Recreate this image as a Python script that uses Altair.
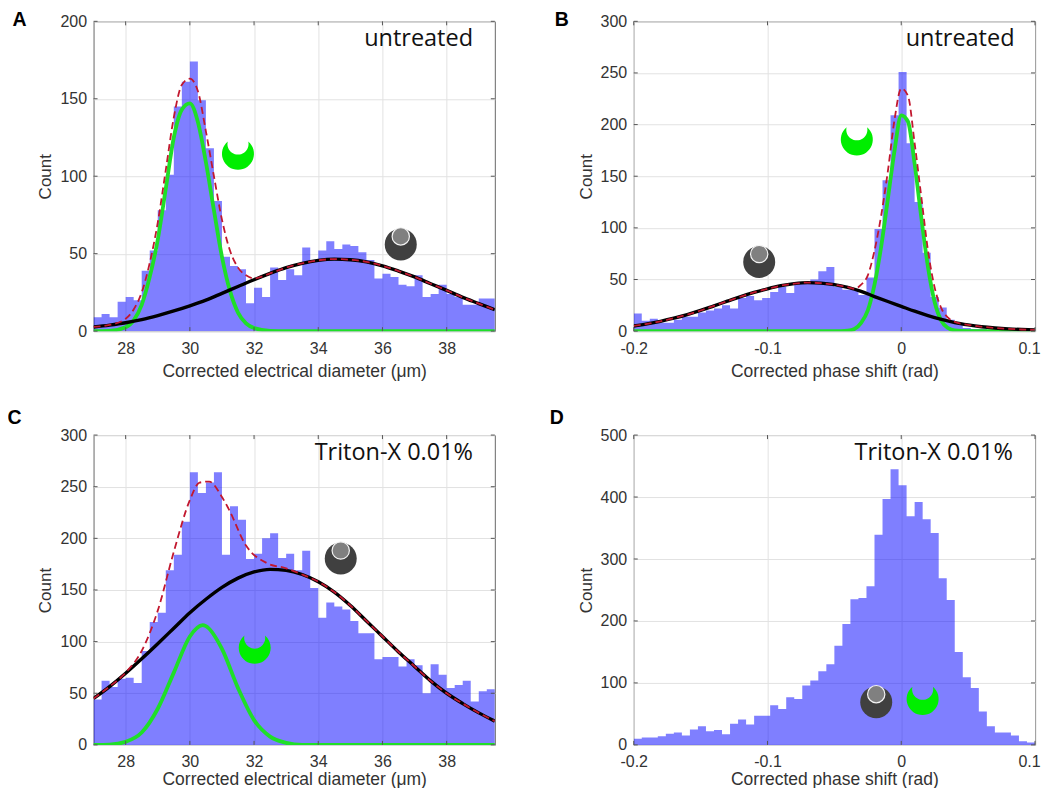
import altair as alt
import pandas as pd

# ---- histogram counts (50 bins each)
diam_edges_start, diam_edges_stop = 27.0, 39.5
phase_edges_start, phase_edges_stop = -0.2, 0.1

a_counts = [9, 11, 9, 19, 22, 20, 39, 52, 78, 101, 145, 161, 174, 149, 118, 84, 48, 42, 40, 18,
            28, 22, 41, 33, 40, 36, 54, 45, 52, 58, 53, 56, 55, 51, 46, 34, 37, 35, 30, 29,
            36, 22, 24, 30, 24, 22, 17, 17, 21, 21]
b_counts = [17, 10, 12, 8, 8, 11, 14, 14, 18, 20, 22, 25, 22, 32, 34, 30, 32, 38, 43, 37,
            46, 47, 50, 58, 62, 43, 40, 40, 35, 52, 99, 146, 209, 251, 182, 125, 76, 33, 23, 11,
            7, 3, 2, 2, 1, 1, 1, 0, 0, 0]
c_counts = [44, 62, 56, 64, 65, 60, 91, 119, 128, 169, 184, 216, 264, 244, 254, 264, 184, 231, 218, 180,
            185, 200, 205, 181, 185, 169, 188, 152, 123, 138, 134, 131, 120, 108, 108, 83, 85, 85, 76, 83,
            77, 50, 78, 68, 55, 58, 62, 42, 52, 54]
d_counts = [10, 12, 12, 14, 18, 20, 15, 25, 30, 22, 24, 17, 34, 41, 33, 47, 47, 64, 58, 77,
            74, 96, 104, 119, 130, 160, 195, 235, 237, 256, 339, 397, 445, 419, 369, 392, 364, 342, 269, 234,
            150, 109, 92, 54, 30, 20, 20, 15, 6, 4]

# ---- fitted curves
a_black_x = [27, 27.5, 28, 28.5, 29, 29.5, 30, 30.5, 31, 31.5, 32, 32.5, 33, 33.5, 34, 34.5, 35, 35.5, 36, 36.5, 37, 37.5, 38, 38.5, 39, 39.5]
a_black_y = [2.7, 3.9, 5.4, 7.4, 10, 13, 16.3, 20, 24.4, 28.8, 33.2, 37.3, 41, 43.8, 45.7, 46.5, 46.1, 44.7, 42.2, 38.8, 35, 30.6, 26.3, 21.8, 17.8, 13.8]
a_green_x = [27, 27.5, 28, 28.25, 28.5, 28.75, 29, 29.25, 29.5, 29.75, 30, 30.25, 30.5, 30.75, 31, 31.25, 31.5, 31.75, 32, 32.5, 33, 39.5]
a_green_y = [0, 0.2, 2.5, 7, 17, 35, 59, 92, 125, 143, 147, 135, 109, 78, 48, 26, 12, 5, 2, 0.2, 0, 0]
a_red_x = [27, 27.5, 28, 28.25, 28.5, 28.75, 29, 29.25, 29.5, 29.75, 30, 30.25, 30.5, 30.75, 31, 31.25, 31.5, 31.75, 32, 32.5, 33, 33.5, 34, 34.5, 35, 35.5, 36, 36.5, 37, 37.5, 38, 38.5, 39, 39.5]
a_red_y = [2.7, 4, 8, 14, 25, 44, 70, 104, 138, 159, 163, 155, 129, 100, 72, 52, 41, 36, 34, 37.3, 41, 43.8, 45.7, 46.5, 46.1, 44.7, 42.2, 38.8, 35, 30.6, 26.3, 21.8, 17.8, 13.8]

b_black_x = [-0.2, -0.19, -0.18, -0.17, -0.16, -0.15, -0.14, -0.13, -0.12, -0.11, -0.1, -0.09, -0.08, -0.07, -0.06, -0.05, -0.04, -0.03, -0.02, -0.01, 0, 0.01, 0.02, 0.03, 0.04, 0.05, 0.06, 0.07, 0.08, 0.09, 0.1]
b_black_y = [5, 7, 9.5, 12.5, 16, 20, 24.5, 29, 33.5, 37.5, 41, 44, 46, 47, 46.5, 45, 42.3, 38.5, 33.5, 28.7, 24, 19.3, 15, 11.3, 8.2, 6, 4.3, 3.1, 2.2, 1.6, 1.2]
b_green_x = [-0.2, -0.05, -0.04, -0.035, -0.03, -0.025, -0.02, -0.015, -0.01, -0.005, 0, 0.005, 0.01, 0.015, 0.02, 0.025, 0.03, 0.035, 0.04, 0.05, 0.1]
b_green_y = [0, 0, 0.5, 2, 8, 20, 45, 82, 128, 175, 209, 203, 162, 110, 62, 28, 10, 3, 0.7, 0, 0]
b_red_x = [-0.2, -0.19, -0.18, -0.17, -0.16, -0.15, -0.14, -0.13, -0.12, -0.11, -0.1, -0.09, -0.08, -0.07, -0.06, -0.05, -0.04, -0.035, -0.03, -0.025, -0.02, -0.015, -0.01, -0.005, 0, 0.005, 0.01, 0.015, 0.02, 0.025, 0.03, 0.035, 0.04, 0.05, 0.06, 0.07, 0.08, 0.09, 0.1]
b_red_y = [5, 7, 9.5, 12.5, 16, 20, 24.5, 29, 33.5, 37.5, 41, 44, 46, 47, 46.5, 45, 42.5, 41, 45, 54, 78, 112, 155, 205, 235, 228, 182, 130, 78, 42, 22, 13, 9, 6, 4.3, 3.1, 2.2, 1.6, 1.2]

c_black_x = [27, 27.5, 28, 28.5, 29, 29.5, 30, 30.5, 31, 31.5, 32, 32.5, 33, 33.5, 34, 34.5, 35, 35.5, 36, 36.5, 37, 37.5, 38, 38.5, 39, 39.5]
c_black_y = [45, 56.5, 69.4, 83.4, 98, 113, 128, 141, 152.5, 161.5, 167.5, 170, 169, 165, 158, 148, 135, 120, 105, 90, 76, 62, 50, 40, 31, 23]
c_green_x = [27, 27.5, 28, 28.5, 29, 29.5, 30, 30.4, 30.5, 31, 31.5, 32, 32.5, 33, 33.5, 39.5]
c_green_y = [0, 0.3, 3, 12, 35, 70, 105, 116, 115, 93, 55, 24, 8, 2, 0, 0]
c_red_x = [27, 27.5, 28, 28.5, 29, 29.5, 30, 30.3, 30.6, 31, 31.2, 31.75, 32.4, 33, 33.5, 34, 34.5, 35, 35.5, 36, 36.5, 37, 37.5, 38, 38.5, 39, 39.5]
c_red_y = [45, 56.5, 70, 91, 130, 187, 237, 254, 255, 240, 229, 193, 176, 171, 165, 158, 148, 135, 120, 105, 90, 76, 62, 50, 40, 31, 23]

# ---- ticks
diam_ticks = [28, 30, 32, 34, 36, 38]
phase_ticks = [-0.2, -0.1, 0, 0.1]
a_yticks = [0, 50, 100, 150, 200]
b_yticks = [0, 50, 100, 150, 200, 250, 300]
d_yticks = [0, 100, 200, 300, 400, 500]

W, H = 401.5, 310
BLUE = "#0000ff"
GREEN = "#1fdf28"
RED = "#c2182f"
TXT = "#333333"
SANS = "Liberation Sans"
ANNOT = "Open Sans"

CRESCENT = "M -0.64 -0.77 A 1 1 0 1 0 0.64 -0.77 A 0.66 0.66 0 1 1 -0.64 -0.77 Z"


def edge_table(start, stop, counts):
    n = len(counts)
    step = (stop - start) / n
    xs = [start + step * i for i in range(n + 1)]
    return pd.DataFrame({"x": xs, "y": counts + [counts[-1]]})


def curve(xs, ys, color, width, dash=None):
    kw = dict(color=color, strokeWidth=width, clip=True, interpolate="monotone")
    if dash:
        kw["strokeDash"] = dash
    return alt.Chart(pd.DataFrame({"x": xs, "y": ys})).mark_line(**kw).encode(x="x:Q", y="y:Q")


def panel(letter, lx, ly, tag, tx, start, stop, counts, ymax, xticks, yticks, xtitle, bottom, last_label_shift,
          curves, green_xy, dark_xy):
    xs = alt.Scale(domain=[start, stop], nice=False, zero=False)
    ys = alt.Scale(domain=[0, ymax], nice=False)
    xaxis = alt.Axis(values=xticks, title=xtitle, labelExpr="'' + datum.value", grid=True, tickSize=0,
                     labelPadding=9, titlePadding=1 if bottom else 6.5, domain=False,
                     labelFlush=False, labelOverlap=False, titleFontSize=17.5,
                     labelOffset=alt.expr(f"datum.value == {xticks[-1]} ? {last_label_shift} : 0"))
    yaxis = alt.Axis(values=yticks, title="Count", grid=True, tickSize=0, labelPadding=7,
                     titlePadding=5, domain=False, titleFontSize=17)
    hist = alt.Chart(edge_table(start, stop, counts)).mark_area(
        interpolate="step-after", color=BLUE, opacity=0.5, clip=True
    ).encode(x=alt.X("x:Q", scale=xs, axis=xaxis), y=alt.Y("y:Q", scale=ys, axis=yaxis))

    layers = [hist]
    layers += curves

    tx_df = pd.DataFrame({"x": xticks})
    ty_df = pd.DataFrame({"y": yticks})
    tick = dict(color="#555555", strokeWidth=1)
    layers.append(alt.Chart(tx_df).mark_rule(**tick).encode(x="x:Q", y=alt.value(0), y2=alt.value(4)))
    layers.append(alt.Chart(tx_df).mark_rule(**tick).encode(x="x:Q", y=alt.value(H - 4), y2=alt.value(H)))
    layers.append(alt.Chart(ty_df).mark_rule(**tick).encode(y="y:Q", x=alt.value(0), x2=alt.value(4)))
    layers.append(alt.Chart(ty_df).mark_rule(**tick).encode(y="y:Q", x=alt.value(W - 4), x2=alt.value(W)))

    # cell icons
    gdf = pd.DataFrame({"x": [green_xy[0]], "y": [green_xy[1]]})
    ddf = pd.DataFrame({"x": [dark_xy[0]], "y": [dark_xy[1]]})
    layers.append(alt.Chart(gdf).mark_point(shape=CRESCENT, filled=True, color="#00ee00", opacity=1, size=1024)
                  .encode(x="x:Q", y="y:Q"))
    layers.append(alt.Chart(ddf).mark_point(shape="circle", filled=True, color="#404040", opacity=1, size=1024)
                  .encode(x="x:Q", y="y:Q"))
    layers.append(alt.Chart(ddf).mark_point(shape="circle", filled=True, color="#808080", stroke="#f4f4f4", strokeWidth=1.2,
                                            opacity=1, size=300)
                  .encode(x="x:Q", y="y:Q", yOffset=alt.value(-8)))

    # annotations
    layers.append(alt.Chart(pd.DataFrame({"t": [tag]})).mark_text(
        font=ANNOT, fontSize=23.5, color="#111111", align="right", baseline="alphabetic"
    ).encode(text="t:N", x=alt.value(tx), y=alt.value(24.5)))
    layers.append(alt.Chart(pd.DataFrame({"t": [letter]})).mark_text(
        font=SANS, fontSize=19.5, fontWeight="bold", color="#000000", align="left", baseline="alphabetic"
    ).encode(text="t:N", x=alt.value(lx), y=alt.value(ly)))

    return alt.layer(*layers).properties(width=W, height=H)


A = panel("A", -81, 4.9, "untreated", 379.7, diam_edges_start, diam_edges_stop, a_counts, 200, diam_ticks, a_yticks,
          "Corrected electrical diameter (μm)", False, 0,
          [curve(a_green_x, a_green_y, GREEN, 3.8), curve(a_black_x, a_black_y, "#000000", 3.4),
           curve(a_red_x, a_red_y, RED, 1.8, [7, 4])],
          (31.5, 114.5), (36.57, 56))
B = panel("B", -79, 4.9, "untreated", 381, phase_edges_start, phase_edges_stop, b_counts, 300, phase_ticks, b_yticks,
          "Corrected phase shift (rad)", False, -6,
          [curve(b_green_x, b_green_y, GREEN, 3.8), curve(b_black_x, b_black_y, "#000000", 3.4),
           curve(b_red_x, b_red_y, RED, 1.8, [7, 4])],
          (-0.0332, 185.6), (-0.1062, 67))
C = panel("C", -86, -11, "Triton-X 0.01%", 379.7, diam_edges_start, diam_edges_stop, c_counts, 300, diam_ticks, b_yticks,
          "Corrected electrical diameter (μm)", True, 0,
          [curve(c_green_x, c_green_y, GREEN, 3.8), curve(c_black_x, c_black_y, "#000000", 3.4),
           curve(c_red_x, c_red_y, RED, 1.8, [7, 4])],
          (32.02, 94), (34.7, 180.5))
D = panel("D", -84, -11, "Triton-X 0.01%", 379.3, phase_edges_start, phase_edges_stop, d_counts, 500, phase_ticks, d_yticks,
          "Corrected phase shift (rad)", True, -6,
          [],
          (0.016, 74), (-0.0187, 69))

chart = alt.concat(A, B, C, D, columns=2, spacing={"row": 104, "column": 138.5}, bounds="flush").properties(
    padding={"left": -1.4, "right": 0, "top": 1.1, "bottom": -1}, background="white"
).configure_view(stroke="#666666", strokeWidth=1).configure_axis(
    gridColor="#e2e2e2", gridWidth=1, labelFont=SANS, titleFont=SANS, labelColor=TXT, titleColor=TXT,
    labelFontSize=16, titleFontWeight="normal"
)

chart.save("out.html", embed_options={"renderer": "svg", "actions": False})
